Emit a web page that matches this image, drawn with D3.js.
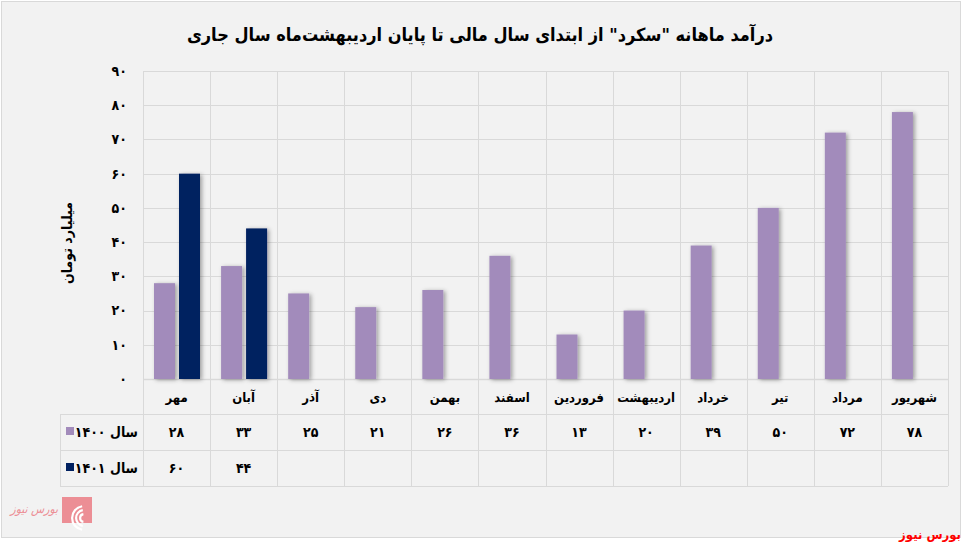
<!DOCTYPE html>
<html><head><meta charset="utf-8">
<script src="https://cdn.jsdelivr.net/npm/d3@7"></script>
<style>
html,body{margin:0;padding:0;background:#fff;}
svg text{font-family:"DejaVu Sans Condensed","DejaVu Sans",sans-serif;font-weight:bold;fill:#000;}
</style></head>
<body>
<svg id="c" width="967" height="549"></svg>
<script>
const categories = ["مهر","آبان","آذر","دی","بهمن","اسفند","فروردین","اردیبهشت","خرداد","تیر","مرداد","شهریور"];
const seriesNames = ["سال ۱۴۰۰","سال ۱۴۰۱"];
const values1400 = [28,33,25,21,26,36,13,20,39,50,72,78];
const values1401 = [60,44,null,null,null,null,null,null,null,null,null,null];
const yTicks = [0,10,20,30,40,50,60,70,80,90];
const colors = ["#a28bbb","#002060"];
const title = 'درآمد ماهانه "سکرد" از ابتدای سال مالی تا پایان اردیبهشت‌ماه  سال جاری';
const yLabel = "میلیارد تومان";
const source = "بورس نیوز";

const fa = n => String(n).replace(/\d/g, d => "۰۱۲۳۴۵۶۷۸۹"[d]);

const svg = d3.select("#c");
const defs = svg.append("defs");
const f = defs.append("filter").attr("id","sh").attr("x","-20%").attr("y","-10%").attr("width","160%").attr("height","130%");
f.append("feDropShadow").attr("dx",2).attr("dy",1).attr("stdDeviation",2).attr("flood-color","#000").attr("flood-opacity",0.35);

// frame
svg.append("rect").attr("x",1.5).attr("y",1.5).attr("width",959).attr("height",536)
  .attr("fill","#f2f2f2").attr("stroke","#d9d9d9");

const L = 143, R = 948, T = 71, B = 379;
const x = d3.scaleBand().domain(categories).range([L, R]).padding(0);
const xs = d3.scaleBand().domain(["1400","1401"]).range([11, 57]).paddingInner(0.16).paddingOuter(0);
const y = d3.scaleLinear().domain([0, 90]).range([B, T]);

const grid = "#d9d9d9";
svg.append("g").selectAll("line").data(yTicks).join("line")
  .attr("x1", L).attr("x2", R).attr("y1", d => Math.round(y(d)) + 0.5).attr("y2", d => Math.round(y(d)) + 0.5)
  .attr("stroke", grid).attr("stroke-width", d => d === 0 ? 1.5 : 1);

const rowY = [414, 450, 486];
svg.append("g").selectAll("line").data(rowY).join("line")
  .attr("x1", 60).attr("x2", R).attr("y1", d => d + 0.5).attr("y2", d => d + 0.5)
  .attr("stroke", grid);
const vx = categories.map(c => x(c)).concat([R]);
svg.append("g").selectAll("line").data(vx).join("line")
  .attr("x1", d => Math.round(d) + 0.5).attr("x2", d => Math.round(d) + 0.5)
  .attr("y1", T).attr("y2", 486).attr("stroke", grid);
svg.append("line").attr("x1", 60.5).attr("x2", 60.5).attr("y1", 414).attr("y2", 486).attr("stroke", grid);

// bars
const series = [values1400, values1401];
series.forEach((vals, si) => {
  svg.append("g").attr("filter","url(#sh)").selectAll("rect")
    .data(categories.map((c, i) => ({c, v: vals[i]})).filter(d => d.v != null))
    .join("rect")
    .attr("x", d => x(d.c) + xs(si === 0 ? "1400" : "1401"))
    .attr("width", xs.bandwidth())
    .attr("y", d => y(d.v)).attr("height", d => y(0) - y(d.v))
    .attr("fill", colors[si]);
});

// y tick labels
svg.append("g").selectAll("text").data(yTicks).join("text")
  .attr("x", 127).attr("y", d => y(d)).attr("dy", "0.35em")
  .attr("text-anchor", "end").attr("font-size", 14).text(d => fa(d));

// y axis label
svg.append("text").attr("transform", "translate(67,243) rotate(-90)")
  .attr("text-anchor", "middle").attr("dy", "0.35em").attr("font-size", 14).text(yLabel);

// title
svg.append("text").attr("x", 480).attr("y", 41).attr("text-anchor", "middle")
  .attr("font-size", 18).attr("direction","rtl").text(title);

// category labels
svg.append("g").selectAll("text").data(categories).join("text")
  .attr("x", d => x(d) + x.bandwidth() / 2).attr("y", 397).attr("dy", "0.35em")
  .attr("text-anchor", "middle").attr("font-size", 13).text(d => d);

// table values
series.forEach((vals, si) => {
  const cy = (rowY[si] + rowY[si + 1]) / 2;
  svg.append("g").selectAll("text")
    .data(categories.map((c, i) => ({c, v: vals[i]})).filter(d => d.v != null))
    .join("text")
    .attr("x", d => x(d.c) + x.bandwidth() / 2).attr("y", cy).attr("dy", "0.35em")
    .attr("text-anchor", "middle").attr("font-size", 14).text(d => fa(d.v));
  svg.append("rect").attr("x", 66).attr("y", cy - 5).attr("width", 8).attr("height", 8).attr("fill", colors[si]);
  svg.append("text").attr("x", 138).attr("y", cy).attr("dy", "0.35em")
    .attr("text-anchor", "start").attr("font-size", 14).attr("direction","rtl").text(seriesNames[si]);
});

// logo
const lg = svg.append("g");
lg.append("rect").attr("x", 62).attr("y", 497).attr("width", 30).attr("height", 26).attr("fill", "#ec8e95");
[13, 9, 5].forEach(r => {
  lg.append("path").attr("d", d3.arc()({innerRadius: r - 2.2, outerRadius: r, startAngle: -Math.PI * 0.95, endAngle: -Math.PI * 0.05}))
    .attr("transform", "translate(84,518)").attr("fill", "#fff");
});
lg.append("text").attr("x", 58).attr("y", 513).attr("text-anchor", "start").attr("font-size", 12)
  .attr("direction","rtl").style("fill", "#ec8e95").style("font-weight","normal").attr("font-style","italic").text(source);

// source
svg.append("text").attr("x", 961).attr("y", 539).attr("text-anchor", "start").attr("font-size", 13)
  .attr("direction","rtl").style("fill", "#ff0000").text(source);
</script>
</body></html>
